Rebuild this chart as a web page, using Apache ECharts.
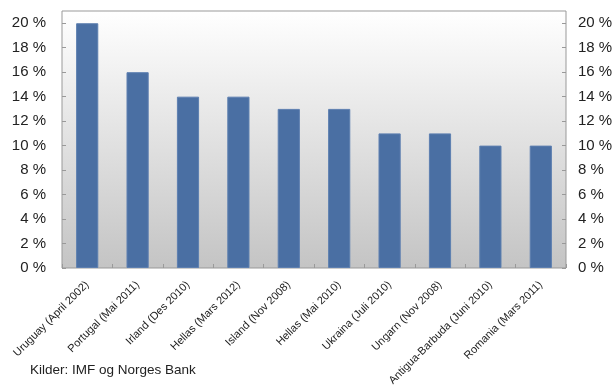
<!DOCTYPE html>
<html>
<head>
<meta charset="utf-8">
<script src="https://cdn.jsdelivr.net/npm/echarts@6/dist/echarts.min.js"></script>
<style>
    html, body { margin: 0; padding: 0; background: #fff; }
    #chart { width: 616px; height: 385px; }
</style>
</head>
<body>
<div id="chart"></div>
<script>
// kategorier og verdier (prosent)
var categories = ['Uruguay (April 2002)', 'Portugal (Mai 2011)', 'Irland (Des 2010)', 'Hellas (Mars 2012)',
    'Island (Nov 2008)', 'Hellas (Mai 2010)', 'Ukraina (Juli 2010)', 'Ungarn (Nov 2008)',
    'Antigua-Barbuda (Juni 2010)', 'Romania (Mars 2011)'];
var values = [20, 16, 14, 14, 13, 13, 11, 11, 10, 10];
var sourceText = 'Kilder: IMF og Norges Bank';

var myChart = echarts.init(document.getElementById('chart'));

function pctLabel(v) {
    return (v % 2 === 0) ? v + ' %' : '';
}

var yAxisBase = {
    type: 'value',
    min: 0,
    max: 21,
    interval: 2,
    axisLine: {show: false},
    axisTick: {show: true, inside: true, length: 4, lineStyle: {color: '#999'}},
    splitLine: {show: false},
    axisLabel: {
        formatter: pctLabel,
        color: '#222',
        fontSize: 15,
        fontFamily: 'Liberation Sans',
        showMaxLabel: false
    }
};

var option = {
    animation: false,
    grid: {
        left: 62,
        right: 50,
        top: 11,
        bottom: 117,
        outerBoundsMode: 'none',
        containLabel: false,
        show: true,
        borderColor: '#999',
        borderWidth: 1,
        backgroundColor: new echarts.graphic.LinearGradient(0, 0, 0, 1, [
            {offset: 0, color: '#ffffff'},
            {offset: 1, color: '#c4c4c4'}
        ])
    },
    xAxis: {
        type: 'category',
        data: categories,
        axisLine: {show: false},
        axisTick: {show: true, inside: true, length: 4, lineStyle: {color: '#999'}},
        axisLabel: {
            rotate: 45,
            interval: 0,
            color: '#222',
            fontSize: 11,
            fontFamily: 'Liberation Sans',
            margin: 15
        }
    },
    yAxis: [
        Object.assign({}, yAxisBase, {position: 'left', axisLabel: Object.assign({}, yAxisBase.axisLabel, {margin: 16})}),
        Object.assign({}, yAxisBase, {position: 'right', axisLabel: Object.assign({}, yAxisBase.axisLabel, {margin: 12})})
    ],
    series: [{
        type: 'bar',
        data: values,
        barWidth: '44%',
        itemStyle: {
            color: '#4a6fa3',
            borderColor: '#5d7fb0',
            borderWidth: 1
        }
    }],
    graphic: [{
        type: 'text',
        left: 30,
        top: 363,
        style: {
            text: sourceText,
            fill: '#222',
            fontSize: 13.5,
            fontFamily: 'Liberation Sans'
        }
    }]
};
myChart.setOption(option);
</script>
</body>
</html>
